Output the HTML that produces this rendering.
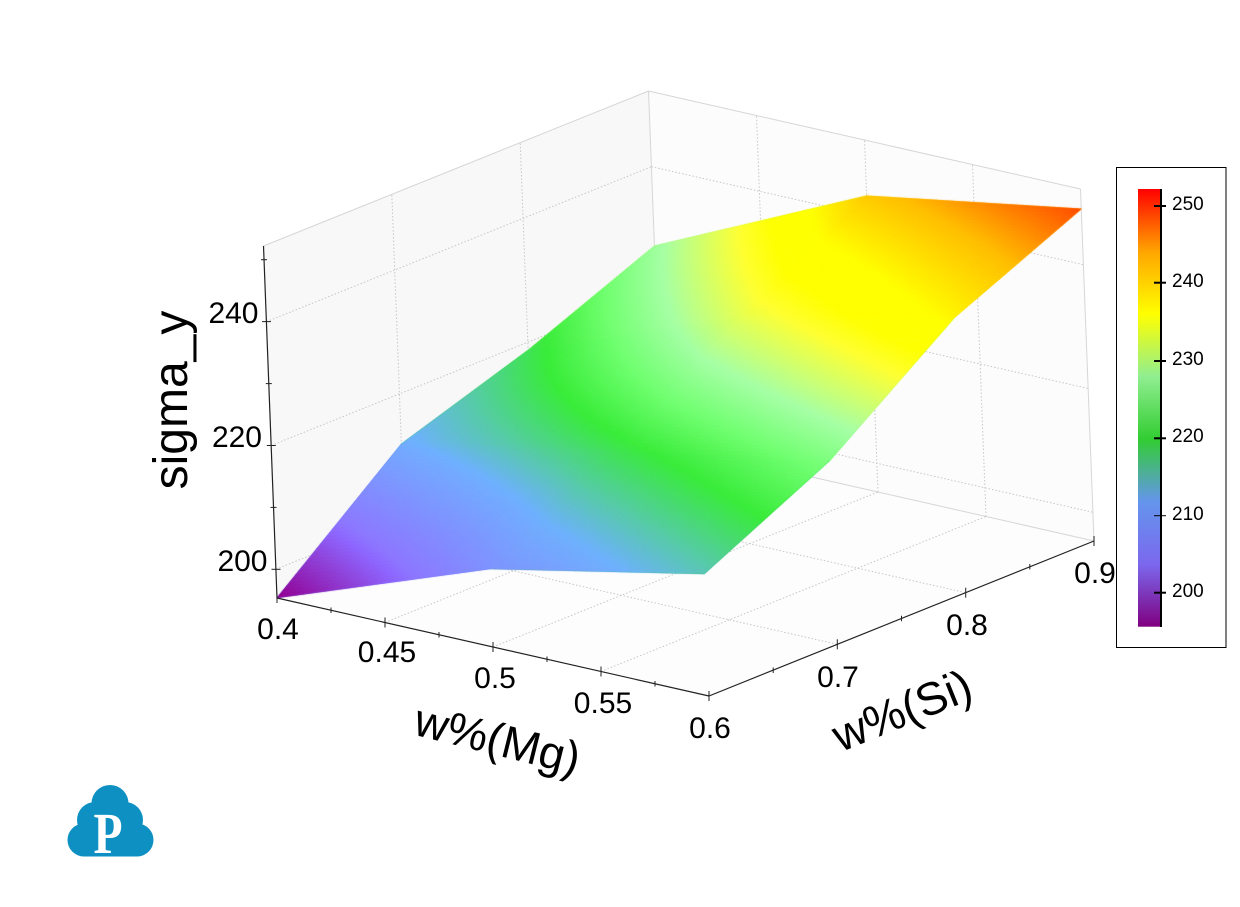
<!DOCTYPE html>
<html><head><meta charset="utf-8"><style>
html,body{margin:0;padding:0;background:#fff;width:1240px;height:907px;overflow:hidden}
.l{position:absolute;left:0;top:0}
text{font-family:"Liberation Sans",Arial,sans-serif}
</style></head><body>
<svg class="l" width="1240" height="907" viewBox="0 0 1240 907" xmlns="http://www.w3.org/2000/svg">
<polygon points="277,598 709,696 1094,541 662,443" fill="#fdfdfd"/>
<polygon points="277,598 662,443 648.5,91 263.5,246" fill="#f8f8f8"/>
<polygon points="662,443 1094,541 1080.5,189 648.5,91" fill="#fcfcfc"/>
<g stroke="#c6c6c6" stroke-width="1" stroke-dasharray="1.5,2" fill="none">
<line x1="275.9" y1="569.3" x2="660.9" y2="414.3"/>
<line x1="271.2" y1="445.5" x2="656.2" y2="290.5"/>
<line x1="266.4" y1="321.7" x2="651.4" y2="166.7"/>
<line x1="405.3" y1="546.3" x2="391.8" y2="194.3"/>
<line x1="533.7" y1="494.7" x2="520.2" y2="142.7"/>
<line x1="660.9" y1="414.3" x2="1092.9" y2="512.3"/>
<line x1="656.2" y1="290.5" x2="1088.2" y2="388.5"/>
<line x1="651.4" y1="166.7" x2="1083.4" y2="264.7"/>
<line x1="770" y1="467.5" x2="756.5" y2="115.5"/>
<line x1="878" y1="492" x2="864.5" y2="140"/>
<line x1="986" y1="516.5" x2="972.5" y2="164.5"/>
<line x1="385" y1="622.5" x2="770" y2="467.5"/>
<line x1="493" y1="647" x2="878" y2="492"/>
<line x1="601" y1="671.5" x2="986" y2="516.5"/>
<line x1="405.3" y1="546.3" x2="837.3" y2="644.3"/>
<line x1="533.7" y1="494.7" x2="965.7" y2="592.7"/>
</g>
<g stroke="#d6d6d6" stroke-width="1" fill="none">
<line x1="263.5" y1="246" x2="648.5" y2="91"/>
<line x1="648.5" y1="91" x2="1080.5" y2="189"/>
<line x1="662" y1="443" x2="648.5" y2="91"/>
<line x1="1094" y1="541" x2="1080.5" y2="189"/>
<line x1="277" y1="598" x2="662" y2="443"/>
<line x1="662" y1="443" x2="1094" y2="541"/>
</g>
<!-- fallback coarse surface -->
<g stroke-width="0.6">
<polygon points="277,597.8 490,568.8 615.7,449 401.4,443.9" fill="#6d83ed" stroke="#6d83ed"/>
<polygon points="490,568.8 704.3,573.8 830.2,460.2 615.7,449" fill="#45b879" stroke="#45b879"/>
<polygon points="401.4,443.9 615.7,449 741,316.9 528.2,350.2" fill="#3ae03e" stroke="#3ae03e"/>
<polygon points="615.7,449 830.2,460.2 955.1,317 741,316.9" fill="#a6f78a" stroke="#a6f78a"/>
<polygon points="528.2,350.2 741,316.9 866.6,195.9 654.4,245.9" fill="#b5f570" stroke="#b5f570"/>
<polygon points="741,316.9 955.1,317 1081.3,208.9 866.6,195.9" fill="#ffc900" stroke="#ffc900"/>
</g>
</svg>
<canvas id="surf" class="l" width="1240" height="907"></canvas>
<svg class="l" width="1240" height="907" viewBox="0 0 1240 907" xmlns="http://www.w3.org/2000/svg">
<defs>
<linearGradient id="cb" x1="0" y1="1" x2="0" y2="0">
<stop offset="0" stop-color="#800080"/>
<stop offset="0.142857" stop-color="#7b68ee"/>
<stop offset="0.285714" stop-color="#6495ed"/>
<stop offset="0.428571" stop-color="#32cd32"/>
<stop offset="0.571429" stop-color="#90ee90"/>
<stop offset="0.714286" stop-color="#ffff00"/>
<stop offset="0.857143" stop-color="#ffa500"/>
<stop offset="1" stop-color="#ff0000"/>
</linearGradient>
</defs>
<g stroke="#222" stroke-width="1.2" fill="none">
<line x1="277" y1="598" x2="263.5" y2="246"/>
<line x1="277" y1="598" x2="709" y2="696"/>
<line x1="709" y1="696" x2="1094" y2="541"/>
</g>
<g stroke="#222" stroke-width="1" fill="none">
<!-- Mg ticks -->
<line x1="277" y1="593" x2="277" y2="603"/>
<line x1="331" y1="607.5" x2="331" y2="613"/>
<line x1="385" y1="617.5" x2="385" y2="627.5"/>
<line x1="439" y1="632" x2="439" y2="637.5"/>
<line x1="493" y1="642" x2="493" y2="652"/>
<line x1="547" y1="656.5" x2="547" y2="662"/>
<line x1="601" y1="666.5" x2="601" y2="676.5"/>
<line x1="655" y1="681" x2="655" y2="686.5"/>
<line x1="709" y1="691" x2="709" y2="701"/>
<!-- Si ticks -->
<line x1="773.2" y1="667.5" x2="773.2" y2="673"/>
<line x1="837.3" y1="639.3" x2="837.3" y2="649.3"/>
<line x1="901.5" y1="615.8" x2="901.5" y2="621.3"/>
<line x1="965.7" y1="587.7" x2="965.7" y2="597.7"/>
<line x1="1029.8" y1="564" x2="1029.8" y2="569.5"/>
<line x1="1094" y1="536" x2="1094" y2="546"/>
<!-- Z ticks -->
<line x1="271.5" y1="569.3" x2="280.5" y2="569.3"/>
<line x1="270.5" y1="507.4" x2="276.5" y2="507.4"/>
<line x1="266.8" y1="445.5" x2="275.8" y2="445.5"/>
<line x1="265.8" y1="383.6" x2="271.8" y2="383.6"/>
<line x1="262" y1="321.6" x2="271" y2="321.6"/>
<line x1="261" y1="259.7" x2="267" y2="259.7"/>
</g>
<g font-size="30" fill="#000" text-anchor="middle">
<text x="278" y="639">0.4</text>
<text x="387" y="662">0.45</text>
<text x="495" y="688">0.5</text>
<text x="603" y="713">0.55</text>
<text x="710" y="738">0.6</text>
<text x="838" y="687">0.7</text>
<text x="967" y="635">0.8</text>
<text x="1095" y="583">0.9</text>
</g>
<g font-size="30" fill="#000" text-anchor="end">
<text x="267.5" y="571">200</text>
<text x="262" y="447">220</text>
<text x="258.5" y="323">240</text>
</g>
<text transform="translate(187,400) rotate(-90)" text-anchor="middle" font-size="48" fill="#000">sigma_y</text>
<text transform="translate(497,742) rotate(14)" text-anchor="middle" y="13" font-size="46" fill="#000">w%(Mg)</text>
<text transform="translate(903,713) rotate(-22)" text-anchor="middle" y="13" font-size="46" fill="#000">w%(Si)</text>
<!-- colorbar -->
<rect x="1116.5" y="167.5" width="109.5" height="480" fill="#fff" stroke="#000" stroke-width="1"/>
<rect x="1138" y="189" width="22.5" height="437.7" fill="url(#cb)"/>
<line x1="1161" y1="189" x2="1161" y2="627" stroke="#000" stroke-width="2"/>
<g stroke="#000" stroke-width="2">
<line x1="1154" y1="206" x2="1166" y2="206"/>
<line x1="1154" y1="282.7" x2="1166" y2="282.7"/>
<line x1="1154" y1="361" x2="1166" y2="361"/>
<line x1="1154" y1="438.3" x2="1166" y2="438.3"/>
<line x1="1154" y1="515.7" x2="1166" y2="515.7" stroke-width="1"/>
<line x1="1154" y1="592.7" x2="1166" y2="592.7"/>
</g>
<g font-size="19" fill="#000">
<text x="1172" y="210">250</text>
<text x="1172" y="287">240</text>
<text x="1172" y="365">230</text>
<text x="1172" y="442">220</text>
<text x="1172" y="520">210</text>
<text x="1172" y="597">200</text>
</g>
<!-- logo -->
<g fill="#0e90c2">
<circle cx="110" cy="803.5" r="18.5"/>
<circle cx="95" cy="820" r="18"/>
<circle cx="125" cy="820" r="18"/>
<circle cx="84" cy="840" r="16.5"/>
<circle cx="137" cy="840" r="16.5"/>
<rect x="84" y="818" width="53" height="38.5"/>
</g>
<text x="108" y="853" font-size="58" font-weight="bold" fill="#fff" text-anchor="middle" transform="translate(108 0) scale(0.82 1) translate(-108 0)" style="font-family:'Liberation Serif',serif">P</text>
</svg>
<script>
(function(){
var c=document.getElementById('surf');if(!c||!c.getContext)return;var ctx=c.getContext('2d');
var Z=[[195.4,208.0,215.1],[211.9,219.0,225.1],[218.7,232.0,239.9],[227.2,243.2,249.0]];
var zmin=195.37,zr=56.85;
function P(u,v,z){var w=(z-zmin)/zr;return [277+u*432+v*385-13.5*w,598+u*98-v*155-352*w];}
var st=[[128,0,128],[123,104,238],[100,149,237],[50,205,50],[144,238,144],[255,255,0],[255,165,0],[255,0,0]];
function col(z){var t=(z-195.6)/56.6;t=Math.max(0,Math.min(1,t))*7;var i=Math.min(6,Math.floor(t));var f=t-i;var a=st[i],b=st[i+1];var k=1.15;var r=[];for(var j=0;j<3;j++){r.push(Math.min(255,Math.round((a[j]+(b[j]-a[j])*f)*k)));}return 'rgb('+r.join(',')+')';}
function zAt(u,v){var x=u*2,y=v*3;var i=Math.min(1,Math.floor(x)),j=Math.min(2,Math.floor(y));var fx=x-i,fy=y-j;
return Z[j][i]*(1-fx)*(1-fy)+Z[j][i+1]*fx*(1-fy)+Z[j+1][i]*(1-fx)*fy+Z[j+1][i+1]*fx*fy;}
var NU=80,NV=120;
ctx.lineWidth=0.8;ctx.lineJoin='round';
for(var b=NV-1;b>=0;b--){for(var a=0;a<NU;a++){
var u0=a/NU,u1=(a+1)/NU,v0=b/NV,v1=(b+1)/NV;
var p1=P(u0,v0,zAt(u0,v0)),p2=P(u1,v0,zAt(u1,v0)),p3=P(u1,v1,zAt(u1,v1)),p4=P(u0,v1,zAt(u0,v1));
var cc=col(zAt((u0+u1)/2,(v0+v1)/2));
ctx.fillStyle=cc;ctx.strokeStyle=cc;
ctx.beginPath();ctx.moveTo(p1[0],p1[1]);ctx.lineTo(p2[0],p2[1]);ctx.lineTo(p3[0],p3[1]);ctx.lineTo(p4[0],p4[1]);ctx.closePath();
ctx.fill();ctx.stroke();}}
})();
</script>
</body></html>
